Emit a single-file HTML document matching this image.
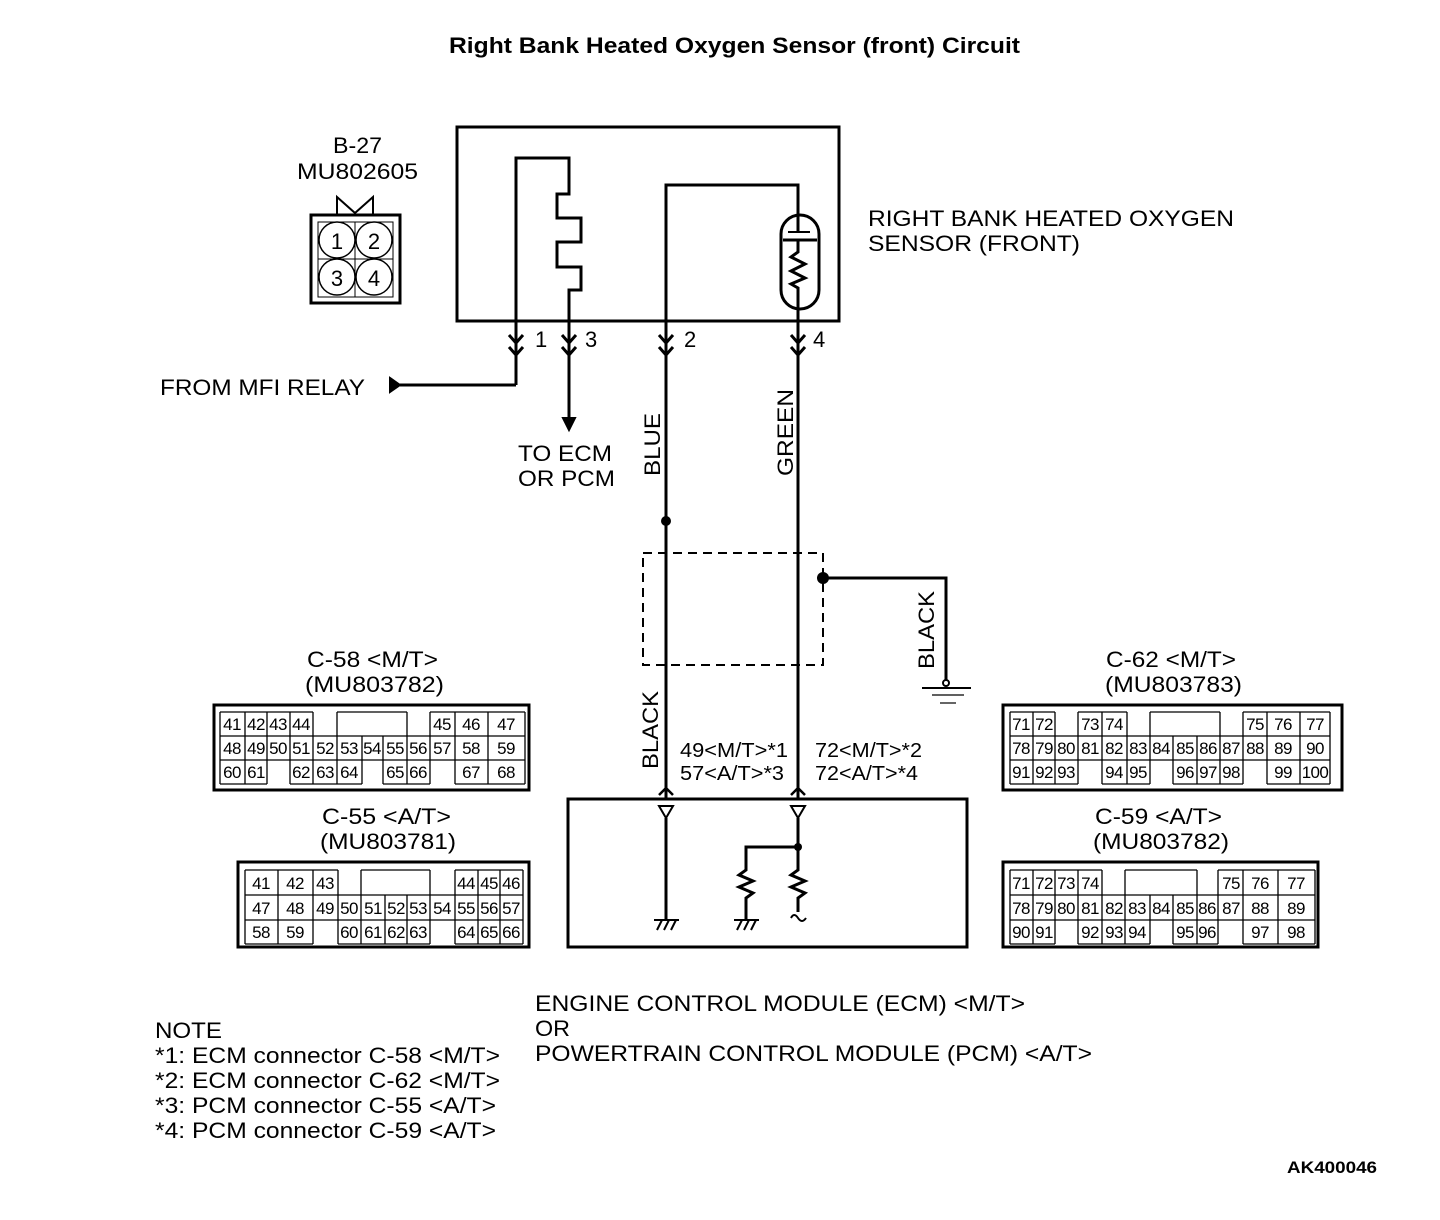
<!DOCTYPE html>
<html><head><meta charset="utf-8"><style>
html,body{margin:0;padding:0;background:#fff;}
svg{display:block;}
text{font-family:"Liberation Sans",sans-serif;fill:#000;}
.n{font-size:17px;letter-spacing:-0.6px;text-anchor:middle;}
.l{font-size:22px;}
</style></head><body>
<svg width="1440" height="1220" viewBox="0 0 1440 1220" xmlns="http://www.w3.org/2000/svg">
<text x="449" y="53" font-size="22" font-weight="bold" textLength="571" lengthAdjust="spacingAndGlyphs">Right Bank Heated Oxygen Sensor (front) Circuit</text>

<!-- B-27 -->
<text x="333" y="153" class="l" textLength="49" lengthAdjust="spacingAndGlyphs">B-27</text>
<text x="297" y="179" class="l" textLength="121" lengthAdjust="spacingAndGlyphs">MU802605</text>
<g fill="none" stroke="#000">
<rect x="311" y="215" width="89" height="88" stroke-width="3"/>
<rect x="318" y="222" width="75" height="75" stroke-width="1"/>
<line x1="355" y1="222" x2="355" y2="297" stroke-width="1"/>
<line x1="318" y1="259" x2="393" y2="259" stroke-width="1"/>
<circle cx="337" cy="240" r="18" stroke-width="1.5"/>
<circle cx="374" cy="240" r="18" stroke-width="1.5"/>
<circle cx="337" cy="277" r="18" stroke-width="1.5"/>
<circle cx="374" cy="277" r="18" stroke-width="1.5"/>
<path d="M337,215 L337,197 L355,213 L373,197 L373,215" stroke-width="2"/>
</g>
<text x="337" y="249" font-size="22" text-anchor="middle">1</text>
<text x="374" y="249" font-size="22" text-anchor="middle">2</text>
<text x="337" y="286" font-size="22" text-anchor="middle">3</text>
<text x="374" y="286" font-size="22" text-anchor="middle">4</text>

<!-- sensor box -->
<g fill="none" stroke="#000" stroke-width="3">
<rect x="457" y="127" width="382" height="194"/>
<path d="M516,385 L516,158 L569,158 L569,194 L557,194 L557,218 L581,218 L581,242 L557,242 L557,267 L581,267 L581,290 L569,290 L569,420"/>
<path d="M666,798 L666,185 L798,185 L798,232"/>
<rect x="781" y="215" width="38" height="94" rx="19"/>
<line x1="788" y1="232" x2="810" y2="232" stroke-width="2"/>
<line x1="783" y1="240" x2="817" y2="240"/>
<path d="M798,240 L798,252 L791,257 L805,264 L791,271 L805,278 L791,284 L798,288 L798,798"/>
<path d="M516,385 L400,385"/>
<path d="M509,335 L516,343 L523,335 M509,347 L516,355 L523,347"/>
<path d="M562,335 L569,343 L576,335 M562,347 L569,355 L576,347"/>
<path d="M659,335 L666,343 L673,335 M659,347 L666,355 L673,347"/>
<path d="M791,335 L798,343 L805,335 M791,347 L798,355 L805,347"/>
<rect x="643" y="553" width="180" height="112" stroke-width="2" stroke-dasharray="9,6"/>
<path d="M823,578 L946,578 L946,680"/>
<rect x="568" y="799" width="399" height="148"/>
<path d="M659,795 L666,788 L673,795 M791,795 L798,788 L805,795" stroke-width="2.5"/>
<path d="M659,806 L673,806 L666,818 Z M791,806 L805,806 L798,818 Z" stroke-width="2"/>
<path d="M666,818 L666,920"/>
<path d="M798,818 L798,870 L791,875 L805,881 L791,887 L805,893 L798,898 L798,912"/>
<path d="M798,847 L746,847 L746,870 L739,875 L753,881 L739,887 L753,893 L746,898 L746,920"/>
<path d="M791,918 Q794,912 798,918 Q802,924 806,918" stroke-width="2"/>
</g>
<g stroke="#000" fill="none" stroke-width="2">
<line x1="654" y1="920" x2="679" y2="920"/>
<path d="M657,930 L662,920 M664,930 L669,920 M671,930 L676,920"/>
<line x1="734" y1="920" x2="759" y2="920"/>
<path d="M737,930 L742,920 M744,930 L749,920 M751,930 L756,920"/>
<circle cx="946" cy="683" r="3" fill="#fff"/>
<line x1="922" y1="688" x2="971" y2="688"/>
<line x1="932" y1="695" x2="964" y2="695" stroke-width="1.2"/>
<line x1="940" y1="703" x2="956" y2="703" stroke-width="1.2"/>
</g>
<circle cx="666" cy="521" r="5"/>
<circle cx="823" cy="578" r="6"/>
<circle cx="798" cy="847" r="4"/>
<path d="M390,378 L400,385 L390,392 Z" stroke="#000" stroke-width="2"/>
<path d="M563,418 L569,430 L575,418 Z" stroke="#000" stroke-width="2"/>

<text x="535" y="347" class="l">1</text>
<text x="585" y="347" class="l">3</text>
<text x="684" y="347" class="l">2</text>
<text x="813" y="347" class="l">4</text>
<text x="160" y="395" class="l" textLength="205" lengthAdjust="spacingAndGlyphs">FROM MFI RELAY</text>
<text x="518" y="461" class="l" textLength="94" lengthAdjust="spacingAndGlyphs">TO ECM</text>
<text x="518" y="486" class="l" textLength="97" lengthAdjust="spacingAndGlyphs">OR PCM</text>
<text transform="translate(660,476) rotate(-90)" class="l" textLength="63" lengthAdjust="spacingAndGlyphs">BLUE</text>
<text transform="translate(793,476) rotate(-90)" class="l" textLength="87" lengthAdjust="spacingAndGlyphs">GREEN</text>
<text transform="translate(658,769) rotate(-90)" class="l" textLength="78" lengthAdjust="spacingAndGlyphs">BLACK</text>
<text transform="translate(934,669) rotate(-90)" class="l" textLength="78" lengthAdjust="spacingAndGlyphs">BLACK</text>
<text x="868" y="226" class="l" textLength="366" lengthAdjust="spacingAndGlyphs">RIGHT BANK HEATED OXYGEN</text>
<text x="868" y="251" class="l" textLength="212" lengthAdjust="spacingAndGlyphs">SENSOR (FRONT)</text>
<text x="680" y="757" font-size="20" textLength="108" lengthAdjust="spacingAndGlyphs">49&lt;M/T&gt;*1</text>
<text x="680" y="780" font-size="20" textLength="104" lengthAdjust="spacingAndGlyphs">57&lt;A/T&gt;*3</text>
<text x="815" y="757" font-size="20" textLength="107" lengthAdjust="spacingAndGlyphs">72&lt;M/T&gt;*2</text>
<text x="815" y="780" font-size="20" textLength="103" lengthAdjust="spacingAndGlyphs">72&lt;A/T&gt;*4</text>

<text x="307" y="667" class="l" textLength="131" lengthAdjust="spacingAndGlyphs">C-58 &lt;M/T&gt;</text>
<text x="305" y="692" class="l" textLength="139" lengthAdjust="spacingAndGlyphs">(MU803782)</text>
<text x="322" y="824" class="l" textLength="129" lengthAdjust="spacingAndGlyphs">C-55 &lt;A/T&gt;</text>
<text x="320" y="849" class="l" textLength="136" lengthAdjust="spacingAndGlyphs">(MU803781)</text>
<text x="1106" y="667" class="l" textLength="130" lengthAdjust="spacingAndGlyphs">C-62 &lt;M/T&gt;</text>
<text x="1105" y="692" class="l" textLength="137" lengthAdjust="spacingAndGlyphs">(MU803783)</text>
<text x="1095" y="824" class="l" textLength="127" lengthAdjust="spacingAndGlyphs">C-59 &lt;A/T&gt;</text>
<text x="1093" y="849" class="l" textLength="136" lengthAdjust="spacingAndGlyphs">(MU803782)</text>

<!-- C-58 -->
<g fill="none" stroke="#000" stroke-width="1.3">
<rect x="214" y="705" width="315" height="85" stroke-width="3"/>
<path d="M220,712 H313 M337,712 H407 M430,712 H525 M220,736 H525 M220,760 H525 M220,784 H267 M290,784 H362 M383,784 H430 M455,784 H525"/>
<path d="M220,712 V784 M245,712 V784 M267,712 V784 M290,712 V784 M313,712 V784 M337,712 V784 M362,736 V784 M383,736 V784 M407,712 V784 M430,712 V784 M455,712 V784 M488,712 V784 M525,712 V784"/>
</g>
<g>
<text x="232" y="730" class="n">41</text><text x="256" y="730" class="n">42</text><text x="278" y="730" class="n">43</text><text x="301" y="730" class="n">44</text><text x="442" y="730" class="n">45</text><text x="471" y="730" class="n">46</text><text x="506" y="730" class="n">47</text>
<text x="232" y="754" class="n">48</text><text x="256" y="754" class="n">49</text><text x="278" y="754" class="n">50</text><text x="301" y="754" class="n">51</text><text x="325" y="754" class="n">52</text><text x="349" y="754" class="n">53</text><text x="372" y="754" class="n">54</text><text x="395" y="754" class="n">55</text><text x="418" y="754" class="n">56</text><text x="442" y="754" class="n">57</text><text x="471" y="754" class="n">58</text><text x="506" y="754" class="n">59</text>
<text x="232" y="778" class="n">60</text><text x="256" y="778" class="n">61</text><text x="301" y="778" class="n">62</text><text x="325" y="778" class="n">63</text><text x="349" y="778" class="n">64</text><text x="395" y="778" class="n">65</text><text x="418" y="778" class="n">66</text><text x="471" y="778" class="n">67</text><text x="506" y="778" class="n">68</text>
</g>

<!-- C-55 -->
<g fill="none" stroke="#000" stroke-width="1.3">
<rect x="238" y="862" width="291" height="85" stroke-width="3"/>
<path d="M245,870 H338 M361,870 H430 M455,870 H523 M245,895 H523 M245,920 H523 M245,944 H313 M338,944 H430 M455,944 H523"/>
<path d="M245,870 V944 M278,870 V944 M313,870 V944 M338,870 V944 M361,870 V944 M385,895 V944 M407,895 V944 M430,870 V944 M455,870 V944 M478,870 V944 M500,870 V944 M523,870 V944"/>
</g>
<g>
<text x="261" y="889" class="n">41</text><text x="295" y="889" class="n">42</text><text x="325" y="889" class="n">43</text><text x="466" y="889" class="n">44</text><text x="489" y="889" class="n">45</text><text x="511" y="889" class="n">46</text>
<text x="261" y="914" class="n">47</text><text x="295" y="914" class="n">48</text><text x="325" y="914" class="n">49</text><text x="349" y="914" class="n">50</text><text x="373" y="914" class="n">51</text><text x="396" y="914" class="n">52</text><text x="418" y="914" class="n">53</text><text x="442" y="914" class="n">54</text><text x="466" y="914" class="n">55</text><text x="489" y="914" class="n">56</text><text x="511" y="914" class="n">57</text>
<text x="261" y="938" class="n">58</text><text x="295" y="938" class="n">59</text><text x="349" y="938" class="n">60</text><text x="373" y="938" class="n">61</text><text x="396" y="938" class="n">62</text><text x="418" y="938" class="n">63</text><text x="466" y="938" class="n">64</text><text x="489" y="938" class="n">65</text><text x="511" y="938" class="n">66</text>
</g>

<!-- C-62 -->
<g fill="none" stroke="#000" stroke-width="1.3">
<rect x="1003" y="705" width="339" height="85" stroke-width="3"/>
<path d="M1010,712 H1055 M1078,712 H1127 M1150,712 H1220 M1243,712 H1330 M1010,736 H1330 M1010,760 H1330 M1010,784 H1078 M1102,784 H1150 M1173,784 H1243 M1267,784 H1330"/>
<path d="M1010,712 V784 M1033,712 V784 M1055,712 V784 M1078,712 V784 M1102,712 V784 M1127,712 V784 M1150,712 V784 M1173,736 V784 M1197,736 V784 M1220,712 V784 M1243,712 V784 M1267,712 V784 M1300,712 V784 M1330,712 V784"/>
</g>
<g>
<text x="1021" y="730" class="n">71</text><text x="1044" y="730" class="n">72</text><text x="1090" y="730" class="n">73</text><text x="1114" y="730" class="n">74</text><text x="1255" y="730" class="n">75</text><text x="1283" y="730" class="n">76</text><text x="1315" y="730" class="n">77</text>
<text x="1021" y="754" class="n">78</text><text x="1044" y="754" class="n">79</text><text x="1066" y="754" class="n">80</text><text x="1090" y="754" class="n">81</text><text x="1114" y="754" class="n">82</text><text x="1138" y="754" class="n">83</text><text x="1161" y="754" class="n">84</text><text x="1185" y="754" class="n">85</text><text x="1208" y="754" class="n">86</text><text x="1231" y="754" class="n">87</text><text x="1255" y="754" class="n">88</text><text x="1283" y="754" class="n">89</text><text x="1315" y="754" class="n">90</text>
<text x="1021" y="778" class="n">91</text><text x="1044" y="778" class="n">92</text><text x="1066" y="778" class="n">93</text><text x="1114" y="778" class="n">94</text><text x="1138" y="778" class="n">95</text><text x="1185" y="778" class="n">96</text><text x="1208" y="778" class="n">97</text><text x="1231" y="778" class="n">98</text><text x="1283" y="778" class="n">99</text><text x="1315" y="778" class="n">100</text>
</g>

<!-- C-59 -->
<g fill="none" stroke="#000" stroke-width="1.3">
<rect x="1003" y="862" width="315" height="85" stroke-width="3"/>
<path d="M1010,870 H1102 M1125,870 H1197 M1218,870 H1315 M1010,895 H1315 M1010,920 H1315 M1010,944 H1055 M1078,944 H1150 M1173,944 H1218 M1243,944 H1315"/>
<path d="M1010,870 V944 M1033,870 V944 M1055,870 V944 M1078,870 V944 M1102,870 V944 M1125,870 V944 M1150,895 V944 M1173,895 V944 M1197,870 V944 M1218,870 V944 M1243,870 V944 M1278,870 V944 M1315,870 V944"/>
</g>
<g>
<text x="1021" y="889" class="n">71</text><text x="1044" y="889" class="n">72</text><text x="1066" y="889" class="n">73</text><text x="1090" y="889" class="n">74</text><text x="1231" y="889" class="n">75</text><text x="1260" y="889" class="n">76</text><text x="1296" y="889" class="n">77</text>
<text x="1021" y="914" class="n">78</text><text x="1044" y="914" class="n">79</text><text x="1066" y="914" class="n">80</text><text x="1090" y="914" class="n">81</text><text x="1114" y="914" class="n">82</text><text x="1137" y="914" class="n">83</text><text x="1161" y="914" class="n">84</text><text x="1185" y="914" class="n">85</text><text x="1207" y="914" class="n">86</text><text x="1231" y="914" class="n">87</text><text x="1260" y="914" class="n">88</text><text x="1296" y="914" class="n">89</text>
<text x="1021" y="938" class="n">90</text><text x="1044" y="938" class="n">91</text><text x="1090" y="938" class="n">92</text><text x="1114" y="938" class="n">93</text><text x="1137" y="938" class="n">94</text><text x="1185" y="938" class="n">95</text><text x="1207" y="938" class="n">96</text><text x="1260" y="938" class="n">97</text><text x="1296" y="938" class="n">98</text>
</g>

<text x="535" y="1011" class="l" textLength="490" lengthAdjust="spacingAndGlyphs">ENGINE CONTROL MODULE (ECM) &lt;M/T&gt;</text>
<text x="535" y="1036" class="l" textLength="35" lengthAdjust="spacingAndGlyphs">OR</text>
<text x="535" y="1061" class="l" textLength="557" lengthAdjust="spacingAndGlyphs">POWERTRAIN CONTROL MODULE (PCM) &lt;A/T&gt;</text>
<text x="155" y="1038" class="l" textLength="67" lengthAdjust="spacingAndGlyphs">NOTE</text>
<text x="155" y="1063" class="l" textLength="345" lengthAdjust="spacingAndGlyphs">*1: ECM connector C-58 &lt;M/T&gt;</text>
<text x="155" y="1088" class="l" textLength="345" lengthAdjust="spacingAndGlyphs">*2: ECM connector C-62 &lt;M/T&gt;</text>
<text x="155" y="1113" class="l" textLength="341" lengthAdjust="spacingAndGlyphs">*3: PCM connector C-55 &lt;A/T&gt;</text>
<text x="155" y="1138" class="l" textLength="341" lengthAdjust="spacingAndGlyphs">*4: PCM connector C-59 &lt;A/T&gt;</text>
<text x="1287" y="1173" font-size="17" font-weight="bold" textLength="90" lengthAdjust="spacingAndGlyphs">AK400046</text>
</svg>
</body></html>
